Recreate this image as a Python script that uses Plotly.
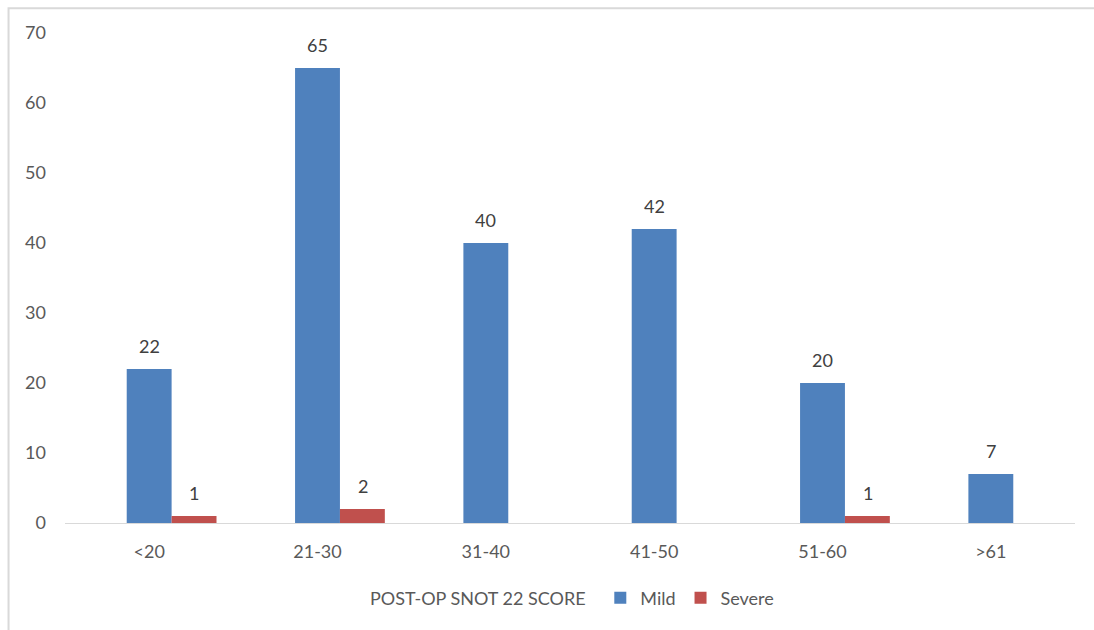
import plotly.graph_objects as go

# Score bands and patient counts per severity group
categories = ["<20", "21-30", "31-40", "41-50", "51-60", ">61"]
mild = [22, 65, 40, 42, 20, 7]
severe = [1, 2, None, None, 1, None]

BLUE = "#4F81BD"
RED = "#C0504D"
TICK_GREY = "#595959"
LABEL_GREY = "#404040"
FONT = "Lato, 'Open Sans', sans-serif"

fig = go.Figure()

# empty leading series keeps the grouped bars in their slots
fig.add_trace(go.Bar(x=categories, y=[None] * len(categories),
                     name="POST-OP SNOT 22 SCORE", showlegend=False,
                     marker_color="rgba(0,0,0,0)"))
fig.add_trace(go.Bar(x=categories, y=mild, name="Mild", marker_color=BLUE,
                     marker_line_width=0))
fig.add_trace(go.Bar(x=categories, y=severe, name="Severe", marker_color=RED,
                     marker_line_width=0))

# value labels above each bar
bar_px = 45
annotations = []
for cat, val in zip(categories, mild):
    if val is not None:
        annotations.append(dict(x=cat, y=val, text=str(val), showarrow=False,
                                yanchor="bottom", yshift=10, xshift=0,
                                font=dict(size=18, color=LABEL_GREY, family=FONT)))
for cat, val in zip(categories, severe):
    if val is not None:
        annotations.append(dict(x=cat, y=val, text=str(val), showarrow=False,
                                yanchor="bottom", yshift=10, xshift=bar_px,
                                font=dict(size=18, color=LABEL_GREY, family=FONT)))

# series title shown beside the legend entries
annotations.append(dict(xref="paper", yref="paper", x=0.5175, y=-0.153,
                        xanchor="right", yanchor="middle", showarrow=False,
                        text="POST-OP SNOT 22 SCORE",
                        font=dict(size=18, color=TICK_GREY, family=FONT)))

fig.update_layout(
    width=1094, height=630,
    margin=dict(l=65, r=19, t=33, b=107),
    paper_bgcolor="white", plot_bgcolor="white",
    barmode="group", bargap=0.2, bargroupgap=0,
    font=dict(family=FONT, size=18, color=TICK_GREY),
    annotations=annotations,
    showlegend=True,
    legend=dict(orientation="h", x=0.53, xanchor="left", y=-0.153,
                yanchor="middle", itemwidth=30,
                font=dict(size=18, color=TICK_GREY, family=FONT),
                bgcolor="rgba(0,0,0,0)"),
    shapes=[dict(type="rect", xref="paper", yref="paper",
                 x0=-0.0559, x1=1.03, y0=-0.25, y1=1.0505,
                 line=dict(color="#D9D9D9", width=2), layer="below")],
)

fig.update_xaxes(showgrid=False, showline=True, linecolor="#D9D9D9",
                 linewidth=1, ticks="", ticklabelstandoff=12,
                 tickfont=dict(size=18, color=TICK_GREY, family=FONT))
fig.update_yaxes(range=[0, 70], dtick=10, showgrid=False, showline=False,
                 zeroline=False, ticks="", ticklabelstandoff=18,
                 tickfont=dict(size=18, color=TICK_GREY, family=FONT))

fig.write_html("out.html")
